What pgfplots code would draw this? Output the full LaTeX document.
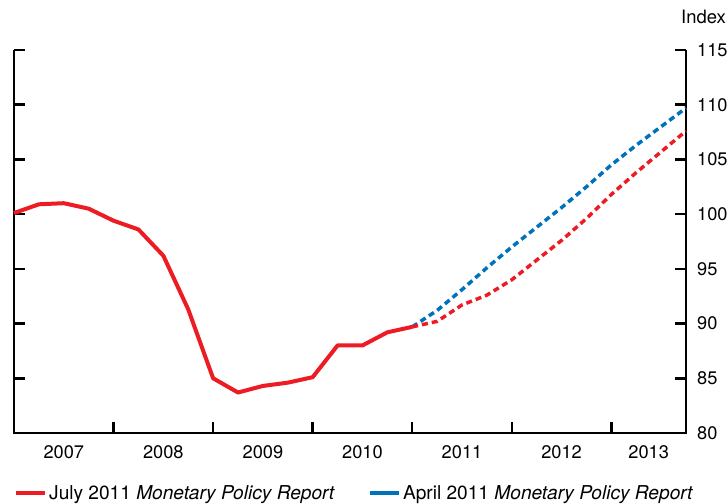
\documentclass[border=0pt]{standalone}
\usepackage{pgfplots}
\pgfplotsset{compat=1.18}
\usepackage{fontspec}
\setmainfont{TeX Gyre Heros}
\definecolor{mprred}{RGB}{237,28,36}
\definecolor{mprblue}{RGB}{0,114,188}

% quarters indexed from 2007Q1 = 0
\begin{document}
\begin{tikzpicture}
\path[use as bounding box] (0bp,0bp) rectangle (728bp,504bp);
\begin{axis}[
    at={(14bp,71bp)}, anchor=south west,
    scale only axis,
    width=672bp, height=383bp,
    xmin=0, xmax=27,
    ymin=80, ymax=115,
    clip=false,
    axis line style={draw=none},
    tick align=inside,
    major tick length=11bp,
    every tick/.style={black, line width=2.5bp},
    xtick={4,8,12,16,20,24},
    xticklabels={},
    xtick pos=left,
    extra x ticks={2,6,10,14,18,22,25.5},
    extra x tick labels={2007,2008,2009,2010,2011,2012,2013},
    extra x tick style={major tick length=0pt},
    xticklabel style={anchor=base, inner sep=0pt, yshift=-25bp},
    ytick={80,85,...,115},
    ytick pos=both,
    yticklabel pos=right,
    yticklabel style={anchor=west, inner sep=0pt, xshift=11bp},
    tick label style={font=\fontsize{18.3}{18}\selectfont},
    /pgf/number format/assume math mode=true,
    legend columns=2,
    legend cell align=left,
    legend image code/.code={\draw[#1, line width=4bp, solid] (0bp,0bp) -- (29bp,0bp);},
    legend style={at={(axis description cs:0,-0.157)}, anchor=west,
        draw=none, fill=none, inner sep=0pt,
        font=\fontsize{19.2}{19}\selectfont,
        /tikz/every even column/.append style={column sep=31bp}},
]
\draw[black, line width=2.5bp] (rel axis cs:0,1) -- (rel axis cs:0,0) -- (rel axis cs:1,0) -- (rel axis cs:1,1);

% April 2011 MPR projection
\addplot[mprblue, line width=3.5bp, dash pattern=on 6bp off 4bp, forget plot] coordinates {
(16,89.7) (17,91.2) (18,93.1) (19,95.1) (20,97.0) (21,98.8)
(22,100.6) (23,102.5) (24,104.5) (25,106.3) (26,108.0) (27,109.7)};
% July 2011 MPR projection
\addplot[mprred, line width=3.5bp, dash pattern=on 6bp off 4bp, forget plot] coordinates {
(16,89.7) (17,90.2) (18,91.7) (19,92.6) (20,94.0) (21,95.8)
(22,97.6) (23,99.6) (24,101.8) (25,103.8) (26,105.7) (27,107.6)};
% history
\addplot[mprred, line width=4bp, line join=round, forget plot] coordinates {
(0,100.1) (1,100.9) (2,101.0) (3,100.5) (4,99.4) (5,98.6) (6,96.2)
(7,91.3) (8,85.0) (9,83.7) (10,84.3) (11,84.6) (12,85.1) (13,88.0)
(14,88.0) (15,89.2) (16,89.7)};

\addlegendimage{mprred}
\addlegendentry{July 2011 \textit{Monetary Policy Report}}
\addlegendimage{mprblue}
\addlegendentry{April 2011 \textit{Monetary Policy Report}}
\end{axis}
\node[anchor=base east, inner sep=0pt, font=\fontsize{18.5}{18}\selectfont] at (726bp,480bp) {Index};
\end{tikzpicture}
\end{document}
